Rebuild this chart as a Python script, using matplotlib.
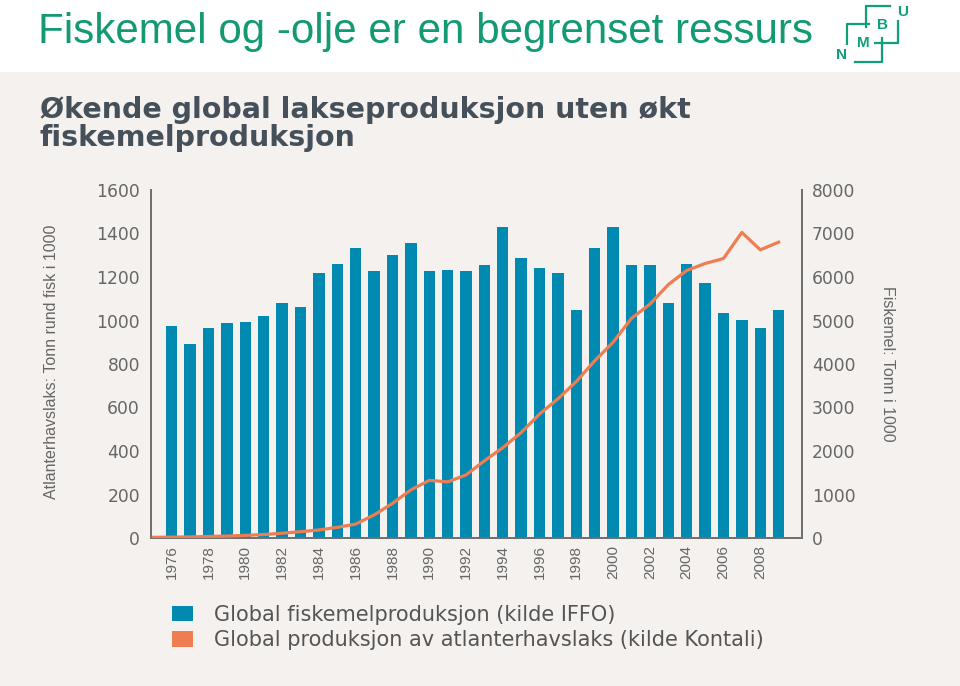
import numpy as np
import matplotlib
matplotlib.use('Agg')
import matplotlib.pyplot as plt
from matplotlib.patches import Patch, Rectangle

# fiskemel (høyre akse, tonn i 1000), 1976-2009
aar = np.arange(1976, 2010)
fiskemel = [4870, 4460, 4835, 4935, 4965, 5110, 5410, 5310, 6100, 6305,
            6675, 6140, 6515, 6790, 6140, 6160, 6140, 6270, 7155, 6435,
            6200, 6100, 5240, 6675, 7155, 6270, 6270, 5410, 6305, 5855,
            5175, 5005, 4835, 5240]

# atlanterhavslaks (venstre akse, tonn rund fisk i 1000), 1975-2009
aar_laks = np.arange(1975, 2010)
laks = [3, 4, 5, 7, 9, 12, 16, 22, 29, 37,
        49, 64, 106, 159, 221, 265, 258, 290, 355, 415,
        485, 570, 640, 720, 815, 900, 1010, 1075, 1165, 1230,
        1262, 1285, 1405, 1325, 1360]

venstre_ticks = [0, 200, 400, 600, 800, 1000, 1200, 1400, 1600]
hoyre_ticks = [0, 1000, 2000, 3000, 4000, 5000, 6000, 7000, 8000]
x_ticks = np.arange(1976, 2009, 2)

blaa = '#0089b1'
oransje = '#ee7d52'
gra = '#666666'
bakgrunn = '#f4f1ee'

fig = plt.figure(figsize=(9.6, 6.86), dpi=100, facecolor='white')

# bakgrunnsflate under tittelen
fig.add_artist(Rectangle((0, 0), 1, 1 - 72 / 686, transform=fig.transFigure,
                         facecolor=bakgrunn, edgecolor='none', zorder=-10))

fig.text(38 / 960, 1 - 43 / 686, 'Fiskemel og -olje er en begrenset ressurs',
         fontsize=30.3, color='#139a74', family='Liberation Sans', va='baseline')

fig.text(40 / 960, 1 - 118 / 686, 'Økende global lakseproduksjon uten økt',
         fontsize=20.5, fontweight='bold', color='#45505a', family='DejaVu Sans', va='baseline')
fig.text(40 / 960, 1 - 146 / 686, 'fiskemelproduksjon',
         fontsize=20.5, fontweight='bold', color='#45505a', family='DejaVu Sans', va='baseline')

# NMBU-logo
logo = fig.add_axes([825 / 960, 1 - 70 / 686, 95 / 960, 70 / 686])
logo.set_xlim(825, 920)
logo.set_ylim(70, 0)
logo.axis('off')
grn = '#0fa07a'
logo.plot([890, 866, 866], [6, 6, 27], color=grn, lw=1.6)
logo.plot([869, 846.7, 846.7], [24, 24, 44], color=grn, lw=1.6)
logo.plot([898.3, 898.3, 875], [21, 42.7, 42.7], color=grn, lw=1.6)
logo.plot([882.3, 882.3, 855], [38, 61.7, 61.7], color=grn, lw=1.6)
for txt, x, y in [('U', 902.5, 12), ('B', 882, 25), ('M', 863, 43), ('N', 841.5, 55)]:
    logo.text(x, y, txt, color=grn, fontsize=11, fontweight='bold',
              family='Liberation Sans', ha='center', va='center')

# hovedaksene
ax = fig.add_axes([151 / 960, 1 - 538 / 686, (802 - 151) / 960, (538 - 190) / 686])
ax2 = ax.twinx()
ax.set_zorder(ax2.get_zorder() + 1)
ax.patch.set_visible(False)
ax2.patch.set_visible(False)

ax2.bar(aar, fiskemel, width=0.62, color=blaa, zorder=2)
ax.plot(aar_laks, laks, color=oransje, lw=2.3, zorder=3)

ax.set_xlim(1974.87, 2010.27)
ax.set_ylim(0, 1600)
ax2.set_ylim(0, 8000)

ax.set_yticks(venstre_ticks)
ax2.set_yticks(hoyre_ticks)
ax.set_xticks(x_ticks)
ax.set_xticklabels([str(t) for t in x_ticks], rotation=90, family='Liberation Sans',
                   fontsize=11, color=gra)
for a in (ax, ax2):
    for lbl in a.get_yticklabels():
        lbl.set_color(gra)
        lbl.set_fontsize(12.3)
        lbl.set_family('DejaVu Sans')
    for s in a.spines.values():
        s.set_color('#707070')
        s.set_linewidth(1.4)
    a.spines['top'].set_visible(False)
ax.tick_params(axis='both', length=0)
ax.tick_params(axis='y', pad=8)
ax.tick_params(axis='x', pad=5)
ax2.tick_params(axis='y', length=0, pad=7)

ax.set_ylabel('Atlanterhavslaks: Tonn rund fisk i 1000', family='Liberation Sans',
              fontsize=11.5, color=gra)
ax.yaxis.set_label_coords(-0.142, 0.505)
ax2.set_ylabel('Fiskemel: Tonn i 1000', family='Liberation Sans', fontsize=11.5,
               color=gra, rotation=-90, va='bottom')
ax2.yaxis.set_label_coords(1.12, 0.50)

handles = [Patch(facecolor=blaa, edgecolor='none'), Patch(facecolor=oransje, edgecolor='none')]
labels = ['Global fiskemelproduksjon (kilde IFFO)',
          'Global produksjon av atlanterhavslaks (kilde Kontali)']
leg = fig.legend(handles, labels, loc='upper left', bbox_to_anchor=(172 / 960, 1 - 605 / 686),
                 frameon=False, borderpad=0, borderaxespad=0, handlelength=1.0,
                 handleheight=0.75, handletextpad=1.0, labelspacing=0.25,
                 prop={'family': 'DejaVu Sans', 'size': 15})
for t in leg.get_texts():
    t.set_color('#555555')

fig.savefig('out.png', dpi=100, facecolor=fig.get_facecolor())
